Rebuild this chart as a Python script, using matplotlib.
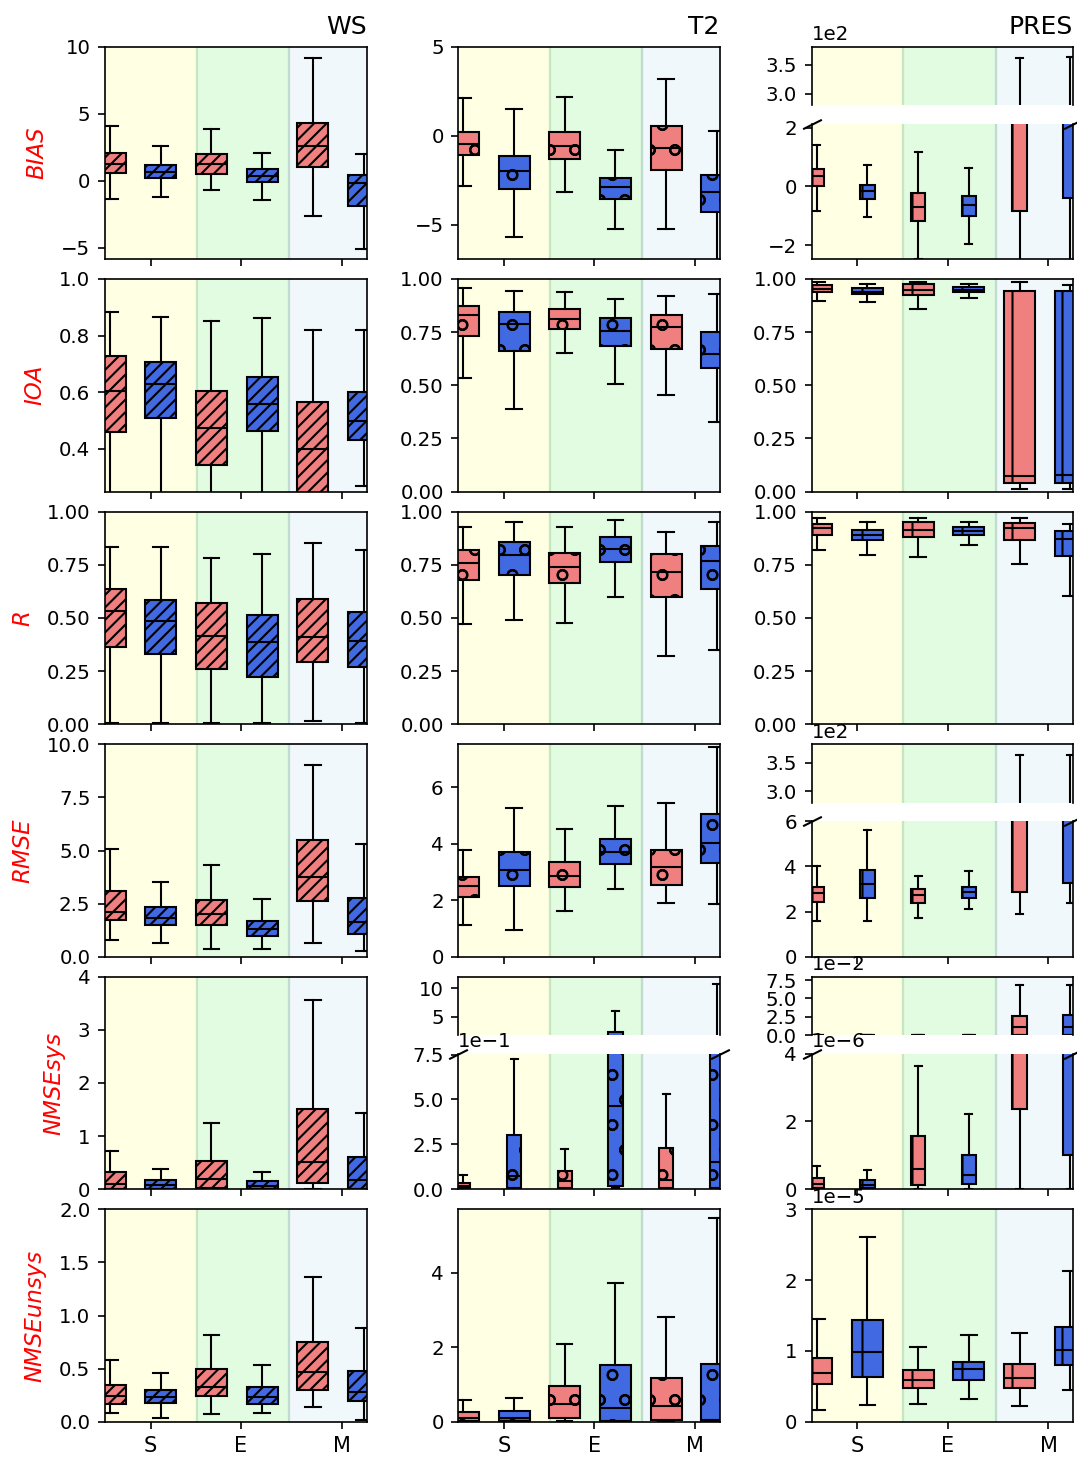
import numpy as np
import matplotlib
matplotlib.use("Agg")
import matplotlib.pyplot as plt
from matplotlib.ticker import ScalarFormatter

# ---------------------------------------------------------------------------
# Box statistics: each row is [whislo, q1, median, q3, whishi]
# box order per panel: S-red, S-blue, E-red, E-blue, M-red, M-blue
# ---------------------------------------------------------------------------
variables = ["WS", "T2", "PRES"]
metrics = ["BIAS", "IOA", "R", "RMSE", "NMSEsys", "NMSEunsys"]
regions = ["S", "E", "M"]

WS_BIAS = [[-1.38, 0.55, 1.25, 2.05, 4.07], [-1.20, 0.17, 0.62, 1.20, 2.58],
           [-0.68, 0.50, 1.25, 2.00, 3.87], [-1.45, -0.12, 0.33, 0.85, 2.07],
           [-2.62, 1.00, 2.55, 4.30, 9.12], [-5.12, -1.87, -0.17, 0.42, 2.00]]
T2_BIAS = [[-2.82, -1.09, -0.49, 0.19, 2.11], [-5.70, -3.00, -1.97, -1.13, 1.51],
           [-3.16, -1.28, -0.58, 0.19, 2.17], [-5.22, -3.53, -2.88, -2.35, -0.81],
           [-5.26, -1.93, -0.68, 0.56, 3.20], [-7.50, -4.29, -3.16, -2.22, 0.28]]
PRES_BIAS = [[-0.85, 0.00, 0.34, 0.59, 1.41], [-1.06, -0.43, -0.17, 0.06, 0.73],
             [-2.46, -1.19, -0.72, -0.23, 1.18], [-1.95, -1.00, -0.62, -0.32, 0.63],
             [-5.00, -0.83, 40.0, 120.0, 362.0], [-5.00, -0.40, 40.0, 120.0, 363.0]]

WS_IOA = [[0.20, 0.459, 0.606, 0.729, 0.882], [0.20, 0.509, 0.629, 0.708, 0.867],
          [0.20, 0.345, 0.473, 0.605, 0.851], [0.20, 0.465, 0.559, 0.654, 0.861],
          [0.10, 0.200, 0.400, 0.567, 0.821], [0.271, 0.433, 0.499, 0.601, 0.819]]
T2_IOA = [[0.532, 0.734, 0.831, 0.874, 0.957], [0.386, 0.661, 0.787, 0.847, 0.942],
          [0.654, 0.764, 0.811, 0.861, 0.937], [0.506, 0.687, 0.754, 0.816, 0.907],
          [0.452, 0.671, 0.773, 0.831, 0.921], [0.328, 0.580, 0.649, 0.751, 0.929]]
PRES_IOA = [[0.898, 0.937, 0.953, 0.973, 0.987], [0.890, 0.928, 0.940, 0.957, 0.976],
            [0.858, 0.924, 0.950, 0.975, 0.984], [0.909, 0.937, 0.950, 0.964, 0.978],
            [0.011, 0.039, 0.074, 0.942, 0.984], [0.011, 0.039, 0.076, 0.942, 0.973]]

WS_R = [[0.005, 0.362, 0.531, 0.637, 0.833], [0.005, 0.332, 0.487, 0.586, 0.835],
        [0.005, 0.259, 0.417, 0.571, 0.781], [0.005, 0.222, 0.387, 0.514, 0.803],
        [0.013, 0.292, 0.412, 0.588, 0.851], [0.005, 0.267, 0.390, 0.527, 0.822]]
T2_R = [[0.473, 0.678, 0.759, 0.819, 0.928], [0.489, 0.701, 0.794, 0.857, 0.953],
        [0.478, 0.665, 0.739, 0.807, 0.928], [0.599, 0.764, 0.825, 0.882, 0.959],
        [0.319, 0.599, 0.717, 0.800, 0.906], [0.347, 0.637, 0.767, 0.838, 0.953]]
PRES_R = [[0.822, 0.890, 0.921, 0.943, 0.972], [0.796, 0.865, 0.890, 0.914, 0.951],
          [0.786, 0.881, 0.914, 0.951, 0.972], [0.844, 0.890, 0.907, 0.928, 0.953],
          [0.753, 0.866, 0.925, 0.948, 0.970], [0.605, 0.791, 0.873, 0.909, 0.943]]

WS_RMSE = [[0.78, 1.71, 2.12, 3.09, 5.07], [0.66, 1.49, 1.84, 2.34, 3.50],
           [0.36, 1.49, 2.03, 2.67, 4.32], [0.36, 0.97, 1.33, 1.68, 2.72],
           [0.63, 2.64, 3.77, 5.51, 9.03], [0.28, 1.05, 1.65, 2.78, 5.31]]
T2_RMSE = [[1.12, 2.11, 2.52, 2.81, 3.78], [0.96, 2.49, 3.06, 3.71, 5.26],
           [1.62, 2.47, 2.87, 3.36, 4.51], [2.39, 3.27, 3.71, 4.16, 5.35],
           [1.91, 2.54, 3.17, 3.77, 5.43], [1.88, 3.31, 4.04, 5.05, 7.43]]
PRES_RMSE = [[1.59, 2.44, 2.84, 3.07, 4.00], [1.59, 2.60, 3.23, 3.85, 5.63],
             [1.73, 2.40, 2.74, 3.00, 3.60], [2.12, 2.60, 2.89, 3.11, 3.81],
             [1.90, 2.89, 40.0, 120.0, 363.0], [2.37, 3.26, 40.0, 120.0, 364.0]]

WS_NMSEsys = [[0.0, 0.010, 0.100, 0.325, 0.720], [0.0, 0.010, 0.080, 0.169, 0.375],
              [0.0, 0.020, 0.190, 0.530, 1.240], [0.0, 0.010, 0.060, 0.150, 0.325],
              [0.0, 0.125, 0.520, 1.510, 3.560], [0.0, 0.010, 0.170, 0.610, 1.430]]
T2_NMSEsys = [[0.0, 0.004, 0.019, 0.033, 0.080], [0.0, 0.004, 0.074, 0.302, 0.726],
              [0.0, 0.004, 0.043, 0.102, 0.226], [0.004, 0.0185, 0.463, 2.41, 5.97],
              [0.0, 0.004, 0.050, 0.228, 0.531], [0.0, 0.004, 0.154, 1.20, 10.74]]
PRES_NMSEsys = [[0.0, 0.05e-6, 0.15e-6, 0.32e-6, 0.69e-6],
                [0.0, 0.04e-6, 0.13e-6, 0.27e-6, 0.57e-6],
                [0.0, 0.12e-6, 0.59e-6, 1.58e-6, 3.65e-6],
                [0.0, 0.14e-6, 0.41e-6, 1.00e-6, 2.22e-6],
                [0.0, 2.36e-6, 1.1e-2, 2.64e-2, 6.8e-2],
                [0.0, 1.00e-6, 1.1e-2, 2.70e-2, 6.8e-2]]

WS_NMSEunsys = [[0.081, 0.172, 0.244, 0.344, 0.580], [0.034, 0.181, 0.2375, 0.300, 0.4625],
                [0.072, 0.244, 0.331, 0.494, 0.820], [0.0875, 0.172, 0.2375, 0.328, 0.531],
                [0.144, 0.300, 0.469, 0.750, 1.3625], [0.019, 0.200, 0.284, 0.478, 0.881]]
T2_NMSEunsys = [[0.0, 0.02, 0.10, 0.26, 0.59], [0.0, 0.02, 0.10, 0.29, 0.64],
                [0.02, 0.11, 0.47, 0.95, 2.08], [0.0, 0.03, 0.37, 1.52, 3.71],
                [0.0, 0.05, 0.42, 1.17, 2.81], [0.0, 0.02, 0.06, 1.56, 5.46]]
PRES_NMSEunsys = np.array([[0.169, 0.531, 0.686, 0.907, 1.457], [0.240, 0.630, 0.983, 1.434, 2.614],
                           [0.254, 0.475, 0.588, 0.733, 1.063], [0.320, 0.592, 0.752, 0.851, 1.227],
                           [0.230, 0.484, 0.625, 0.813, 1.260], [0.450, 0.800, 1.020, 1.340, 2.130]]) * 1e-5

DATA = {
    ("BIAS", "WS"): WS_BIAS, ("BIAS", "T2"): T2_BIAS, ("BIAS", "PRES"): PRES_BIAS,
    ("IOA", "WS"): WS_IOA, ("IOA", "T2"): T2_IOA, ("IOA", "PRES"): PRES_IOA,
    ("R", "WS"): WS_R, ("R", "T2"): T2_R, ("R", "PRES"): PRES_R,
    ("RMSE", "WS"): WS_RMSE, ("RMSE", "T2"): T2_RMSE, ("RMSE", "PRES"): PRES_RMSE,
    ("NMSEsys", "WS"): WS_NMSEsys, ("NMSEsys", "T2"): T2_NMSEsys, ("NMSEsys", "PRES"): PRES_NMSEsys,
    ("NMSEunsys", "WS"): WS_NMSEunsys, ("NMSEunsys", "T2"): T2_NMSEunsys,
    ("NMSEunsys", "PRES"): PRES_NMSEunsys,
}

# axis limits / ticks for regular panels: (ylim, yticks, fixed exponent)
REGULAR = {
    ("BIAS", "WS"): ((-5.87, 10), [-5, 0, 5, 10], None),
    ("BIAS", "T2"): ((-6.93, 5), [-5, 0, 5], None),
    ("IOA", "WS"): ((0.25, 1.0), [0.4, 0.6, 0.8, 1.0], None),
    ("IOA", "T2"): ((0, 1), [0, 0.25, 0.5, 0.75, 1.0], None),
    ("IOA", "PRES"): ((0, 1), [0, 0.25, 0.5, 0.75, 1.0], None),
    ("R", "WS"): ((0, 1), [0, 0.25, 0.5, 0.75, 1.0], None),
    ("R", "T2"): ((0, 1), [0, 0.25, 0.5, 0.75, 1.0], None),
    ("R", "PRES"): ((0, 1), [0, 0.25, 0.5, 0.75, 1.0], None),
    ("RMSE", "WS"): ((0, 10), [0, 2.5, 5, 7.5, 10], None),
    ("RMSE", "T2"): ((0, 7.52), [0, 2, 4, 6], None),
    ("NMSEsys", "WS"): ((0, 4), [0, 1, 2, 3, 4], None),
    ("NMSEunsys", "WS"): ((0, 2), [0, 0.5, 1.0, 1.5, 2.0], None),
    ("NMSEunsys", "T2"): ((0, 5.7), [0, 2, 4], None),
    ("NMSEunsys", "PRES"): ((0, 3e-5), [0, 1e-5, 2e-5, 3e-5], -5),
}
# broken panels: (top ylim, top ticks, top exponent, bottom ylim, bottom ticks, bottom exponent)
BROKEN = {
    ("BIAS", "PRES"): ((280, 381), [300, 350], 2, (-2.48, 2.13), [-2, 0, 2], None),
    ("RMSE", "PRES"): ((280, 382), [300, 350], 2, (0, 6.0), [0, 2, 4, 6], None),
    ("NMSEsys", "T2"): ((1.78, 12.0), [5, 10], None, (0, 0.755), [0, 0.25, 0.5, 0.75], -1),
    ("NMSEsys", "PRES"): ((0, 0.0796), [0, 0.025, 0.05, 0.075], -2,
                          (0, 4e-6), [0, 2e-6, 4e-6], -6),
}

# ---------------------------------------------------------------------------
# Style
# ---------------------------------------------------------------------------
W, H, DPI = 1077, 1459, 150
plt.rcParams.update({
    "font.size": 10,
    "ytick.labelsize": 9.5,
    "xtick.labelsize": 10,
    "hatch.linewidth": 1.0,
})

BOX_COLORS = ["lightcoral", "royalblue"]
HATCH = {"WS": "////", "T2": "o", "PRES": "|"}
POSITIONS = [0.1, 1.1, 2.1, 3.1, 4.1, 5.1]
XLIM = (0, 5.158)
XTICKS = [0.9, 2.68, 4.67]
SPANS = [(-1, 1.81, "#FFFFE4"), (1.81, 3.63, "#E1FCE1"), (3.63, 7, "#F0F8FC")]
BOUNDS = [(1.81, "#C6E6C0"), (3.63, "#C0DCD0")]

COL_LEFT = [105, 458.3, 811.7]
COL_W = 261.5
ROW_TOP = [46.7, 279, 511.7, 744.3, 976.7, 1209.3]
ROW_H = 212.5
TOP_H = 58.5
BOT_OFF = 77.0

fig = plt.figure(figsize=(W / DPI, H / DPI), dpi=DPI)


def px_axes(left, top, w, h):
    return fig.add_axes([left / W, 1 - (top + h) / H, w / W, h / H])


def fixed_formatter(order):
    f = ScalarFormatter(useMathText=False, useOffset=False)
    f.set_powerlimits((order, order))
    return f


def dress(ax, ylim, yticks, order, is_bottom_row, show_xticks=True):
    for a, b, c in SPANS:
        ax.axvspan(a, b, facecolor=c, edgecolor="none", zorder=0)
    for x, c in BOUNDS:
        ax.axvline(x, color=c, lw=1.1, zorder=0.5)
    ax.set_xlim(*XLIM)
    ax.set_ylim(*ylim)
    ax.set_yticks(yticks)
    if order is not None:
        ax.yaxis.set_major_formatter(fixed_formatter(order))
    if show_xticks:
        ax.set_xticks(XTICKS)
        if is_bottom_row:
            ax.set_xticklabels(regions)
        else:
            ax.set_xticklabels([])
    else:
        ax.set_xticks([])


def draw_boxes(ax, rows, hatch, width):
    stats = [dict(whislo=r[0], q1=r[1], med=r[2], q3=r[3], whishi=r[4]) for r in rows]
    lp = dict(color="black", linewidth=1.0)
    bp = ax.bxp(stats, positions=POSITIONS, widths=width, patch_artist=True,
                showfliers=False, manage_ticks=False,
                boxprops=dict(edgecolor="black", linewidth=1.0),
                medianprops=lp, whiskerprops=lp, capprops=lp)
    for i, patch in enumerate(bp["boxes"]):
        patch.set_facecolor(BOX_COLORS[i % 2])
        patch.set_hatch(hatch)
    return bp


for r, metric in enumerate(metrics):
    last = r == len(metrics) - 1
    for c, var in enumerate(variables):
        key = (metric, var)
        rows = DATA[key]
        left, top = COL_LEFT[c], ROW_TOP[r]
        if key in BROKEN:
            tlim, tticks, tord, blim, bticks, bord = BROKEN[key]
            ax_t = px_axes(left, top, COL_W, TOP_H)
            ax_b = px_axes(left, top + BOT_OFF, COL_W, ROW_H - BOT_OFF)
            draw_boxes(ax_t, rows, HATCH[var], 0.28)
            draw_boxes(ax_b, rows, HATCH[var], 0.28)
            dress(ax_t, tlim, tticks, tord, last, show_xticks=False)
            dress(ax_b, blim, bticks, bord, last)
            ax_t.spines["bottom"].set_visible(False)
            ax_b.spines["top"].set_visible(False)
            ax_b.plot([0, 1], [1, 1], transform=ax_b.transAxes,
                      marker=[(-1, -0.5), (1, 0.5)], markersize=9,
                      linestyle="none", color="k", mec="k", mew=1, clip_on=False)
            head, main = ax_t, ax_b
        else:
            ylim, yticks, order = REGULAR[key]
            ax = px_axes(left, top, COL_W, ROW_H)
            draw_boxes(ax, rows, HATCH[var], 0.61)
            dress(ax, ylim, yticks, order, last)
            head = main = ax
        if r == 0:
            head.set_title(var, loc="right", fontsize=12)
        if c == 0:
            main.set_ylabel(metric, color="red", style="italic", fontsize=11, labelpad=6)

fig.savefig("out.png", dpi=DPI)
